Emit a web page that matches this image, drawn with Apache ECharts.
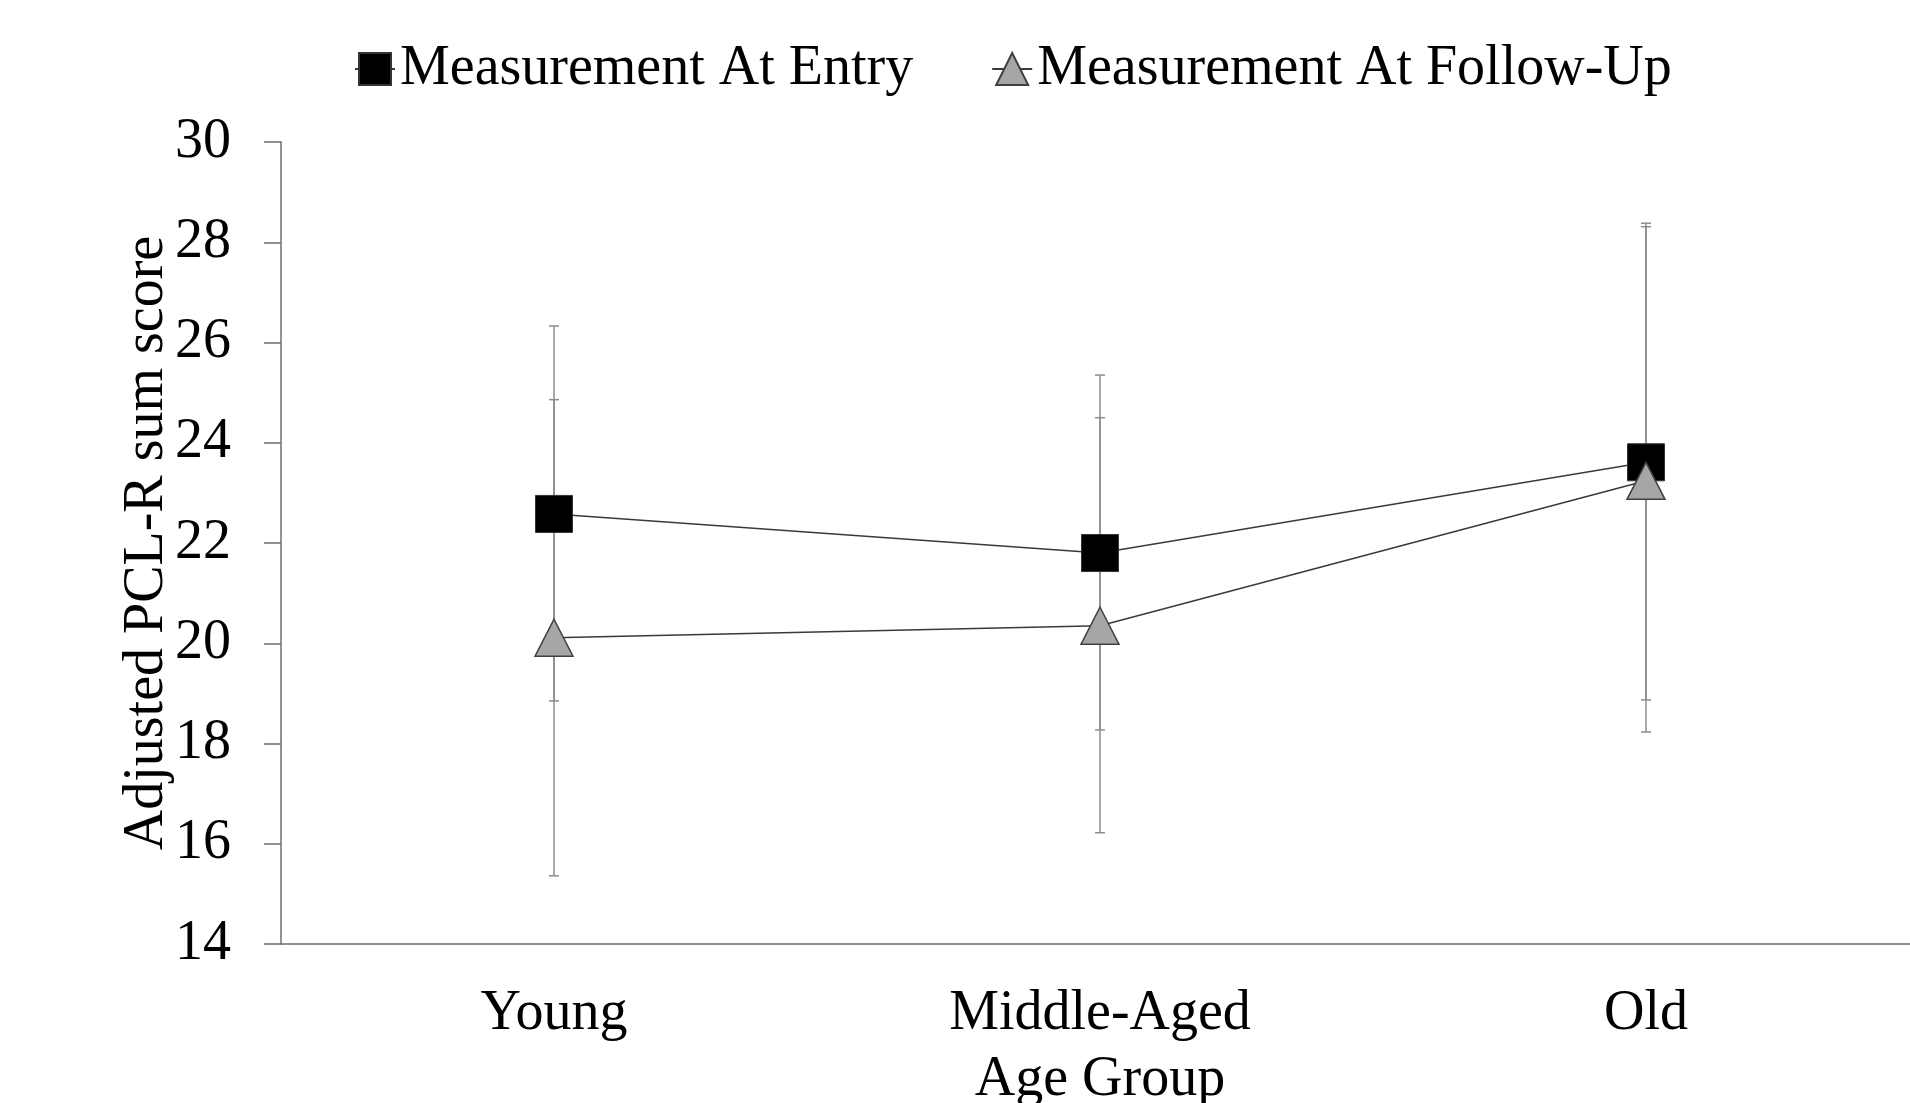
<!DOCTYPE html>
<html>
<head>
<meta charset="utf-8">
<script src="https://cdn.jsdelivr.net/npm/echarts@6/dist/echarts.min.js"></script>
<style>
  html, body { margin: 0; padding: 0; background: #fff; }
  #chart { width: 1910px; height: 1103px; }
</style>
</head>
<body>
<div id="chart"></div>
<script>
const categories = ['Young', 'Middle-Aged', 'Old'];
const yTicks = [14, 16, 18, 20, 22, 24, 26, 28, 30];

// measurement at entry
const entryMean = [22.58, 21.80, 23.61];
const entryLow = [18.85, 18.27, 18.87];
const entryHigh = [26.33, 25.35, 28.38];

// measurement at follow-up
const followMean = [20.11, 20.35, 23.24];
const followLow = [15.36, 16.22, 18.23];
const followHigh = [24.86, 24.50, 28.31];

const FONT = '"Liberation Serif", "Times New Roman", serif';

const chart = echarts.init(document.getElementById('chart'), null, { renderer: 'canvas' });

// draws a vertical error bar with small caps
function renderErrorBar(params, api) {
  const x = api.value(0);
  const lo = api.coord([x, api.value(1)]);
  const hi = api.coord([x, api.value(2)]);
  const w = 5;
  const style = { stroke: '#8c8c8c', lineWidth: 1.5 };
  return {
    type: 'group',
    children: [
      { type: 'line', shape: { x1: hi[0], y1: hi[1], x2: lo[0], y2: lo[1] }, style: style },
      { type: 'line', shape: { x1: hi[0] - w, y1: hi[1], x2: hi[0] + w, y2: hi[1] }, style: style },
      { type: 'line', shape: { x1: lo[0] - w, y1: lo[1], x2: lo[0] + w, y2: lo[1] }, style: style }
    ]
  };
}

const option = {
  backgroundColor: '#fff',
  animation: false,
  textStyle: { fontFamily: FONT },
  legend: {
    left: 349,
    top: 36,
    itemWidth: 40,
    itemHeight: 40,
    itemGap: 78,
    data: ['Measurement At Entry', 'Measurement At Follow-Up'],
    textStyle: { fontFamily: FONT, fontSize: 56, color: '#000' }
  },
  grid: { left: 281, right: -9, top: 142, bottom: 159, outerBoundsMode: 'none', containLabel: false },
  xAxis: {
    type: 'category',
    data: categories,
    boundaryGap: true,
    name: 'Age Group',
    nameLocation: 'middle',
    nameGap: 108,
    nameMoveOverlap: false,
    nameTextStyle: { fontFamily: FONT, fontSize: 56, color: '#000' },
    axisLine: { lineStyle: { color: '#6e6e6e', width: 1.5 } },
    axisTick: { show: false },
    axisLabel: { margin: 42, fontFamily: FONT, fontSize: 56, color: '#000' }
  },
  yAxis: {
    type: 'value',
    min: yTicks[0],
    max: yTicks[yTicks.length - 1],
    interval: 2,
    name: 'Adjusted PCL-R sum score',
    nameLocation: 'middle',
    nameGap: 106,
    nameMoveOverlap: false,
    nameTextStyle: { fontFamily: FONT, fontSize: 56, color: '#000' },
    splitLine: { show: false },
    axisLine: { show: true, lineStyle: { color: '#6e6e6e', width: 1.5 } },
    axisTick: { show: true, inside: false, length: 17, lineStyle: { color: '#6e6e6e', width: 1.5 } },
    axisLabel: { margin: 50, fontFamily: FONT, fontSize: 56, color: '#000' }
  },
  series: [
    {
      name: 'Entry error',
      type: 'custom',
      renderItem: renderErrorBar,
      data: categories.map((c, i) => [i, entryLow[i], entryHigh[i]]),
      z: 1
    },
    {
      name: 'Follow-up error',
      type: 'custom',
      renderItem: renderErrorBar,
      data: categories.map((c, i) => [i, followLow[i], followHigh[i]]),
      z: 1
    },
    {
      name: 'Measurement At Entry',
      type: 'line',
      data: entryMean,
      symbol: 'rect',
      symbolSize: 37,
      lineStyle: { color: '#3a3a3a', width: 1.5 },
      itemStyle: { color: '#000', borderColor: '#333', borderWidth: 1 },
      z: 3
    },
    {
      name: 'Measurement At Follow-Up',
      type: 'line',
      data: followMean,
      symbol: 'triangle',
      symbolSize: [38, 37],
      lineStyle: { color: '#3a3a3a', width: 1.5 },
      itemStyle: { color: '#a6a6a6', borderColor: '#404040', borderWidth: 1.5 },
      z: 4
    }
  ]
};

chart.setOption(option);
</script>
</body>
</html>
